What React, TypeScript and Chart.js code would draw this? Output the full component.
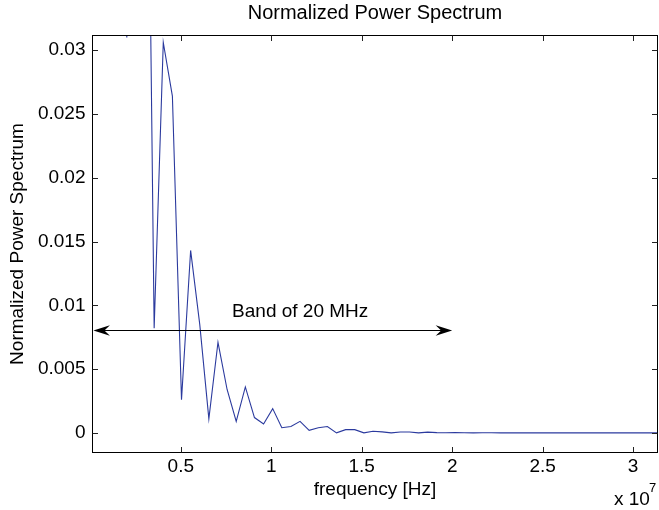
import React, { useEffect, useRef } from 'react';
import { Chart, registerables } from 'chart.js';

Chart.register(...registerables);

// ---- data ----
const freqMHz = [
  0.504, 1.008, 1.512, 2.016, 2.52, 3.024, 3.528, 4.032, 4.536, 5.04,
  5.544, 6.048, 6.552, 7.056, 7.56, 8.064, 8.568, 9.072, 9.576, 10.08,
  10.584, 11.088, 11.592, 12.096, 12.6, 13.104, 13.608, 14.112, 14.616, 15.12,
  15.624, 16.128, 16.632, 17.136, 17.64, 18.144, 18.648, 19.152, 19.656, 20.16,
  20.664, 21.168, 21.672, 22.176, 22.68, 23.184, 23.688, 24.192, 24.696, 25.2,
  25.704, 26.208, 26.712, 27.216, 27.72, 28.224, 28.728, 29.232, 29.736, 30.24,
  30.744, 31.248, 31.752,
];

const powerValues = [
  0.15, 0.35, 0.25, 0.031, 0.085, 0.07, 0.0082, 0.0306, 0.0264, 0.0026,
  0.0143, 0.0085, 0.0011, 0.0071, 0.0034, 0.0009, 0.0036, 0.0012, 0.0007, 0.0019,
  0.0004, 0.0005, 0.0009, 0.0002, 0.0004, 0.0005, 0.0, 0.00025, 0.00025, 0.0,
  0.00013, 0.00008, 0.0, 0.00007, 0.00007, 0.0, 0.00006, 0.00002, 0.00001, 0.00002,
  0.00001, 0.0, 0.00001, 0.00001, 0.0, 0.00001, 0.0, 0.0, 0.00001, 0.0,
  0.0, 0.00001, 0.0, 0.0, 0.0, 0.00001, 0.0, 0.0, 0.0, 0.0,
  0.0, 0.0, 0.0,
];

const xTickValues = [0.5e7, 1e7, 1.5e7, 2e7, 2.5e7, 3e7];
const xTickLabels = ['0.5', '1', '1.5', '2', '2.5', '3'];
const yTickValues = [0, 0.005, 0.01, 0.015, 0.02, 0.025, 0.03];
const yTickLabels = ['0', '0.005', '0.01', '0.015', '0.02', '0.025', '0.03'];

const xMin = 1.2e5;
const xMax = 3.135e7;
const yMin = -0.00154;
const yMax = 0.03115;

// annotation: band arrow
const bandStartHz = 0.17e6;
const bandEndHz = 20e6;
const bandLevel = 0.0081;
const bandLabel = 'Band of 20 MHz';
const bandLabelX = 1.16e7;
const bandLabelY = 0.0091;

const titleText = 'Normalized Power Spectrum';
const xTitle = 'frequency [Hz]';
const yTitle = 'Normalized Power Spectrum';
const expBase = 'x 10';
const expPower = '7';

const FONT = '"Liberation Sans", Arial, Helvetica, sans-serif';
const LINE_COLOR = '#2b3a9e';

const matlabPlugin = {
  id: 'matlabDecor',
  afterDatasetsDraw(chart: any) {
    const { ctx, chartArea: a, scales } = chart;
    const xs = scales.x;
    const ys = scales.y;
    ctx.save();
    // box
    ctx.strokeStyle = '#000';
    ctx.lineWidth = 1;
    ctx.strokeRect(a.left, a.top, a.right - a.left, a.bottom - a.top);
    // inward ticks
    const tl = 5.5;
    ctx.strokeStyle = '#222';
    ctx.beginPath();
    xTickValues.forEach((v) => {
      const px = Math.round(xs.getPixelForValue(v)) + 0.5;
      ctx.moveTo(px, a.bottom);
      ctx.lineTo(px, a.bottom - tl);
      ctx.moveTo(px, a.top);
      ctx.lineTo(px, a.top + tl);
    });
    yTickValues.forEach((v) => {
      const py = Math.round(ys.getPixelForValue(v)) + 0.5;
      ctx.moveTo(a.left, py);
      ctx.lineTo(a.left + tl, py);
      ctx.moveTo(a.right, py);
      ctx.lineTo(a.right - tl, py);
    });
    ctx.stroke();

    // band arrow
    const yA = Math.round(ys.getPixelForValue(bandLevel)) + 0.5;
    const xL = xs.getPixelForValue(bandStartHz);
    const xR = xs.getPixelForValue(bandEndHz);
    ctx.strokeStyle = '#000';
    ctx.fillStyle = '#000';
    ctx.lineWidth = 1;
    ctx.beginPath();
    ctx.moveTo(xL + 6, yA);
    ctx.lineTo(xR - 6, yA);
    ctx.stroke();
    const head = (tipX: number, dir: number) => {
      const L = 16.5;
      const W = 5.3;
      const N = 11;
      ctx.beginPath();
      ctx.moveTo(tipX, yA);
      ctx.lineTo(tipX - dir * L, yA - W);
      ctx.lineTo(tipX - dir * N, yA);
      ctx.lineTo(tipX - dir * L, yA + W);
      ctx.closePath();
      ctx.fill();
    };
    head(xL, -1);
    head(xR, 1);

    // band label
    ctx.font = `19px ${FONT}`;
    ctx.textAlign = 'center';
    ctx.textBaseline = 'alphabetic';
    ctx.fillText(bandLabel, xs.getPixelForValue(bandLabelX), ys.getPixelForValue(bandLabelY));

    // exponent label
    ctx.textAlign = 'left';
    ctx.font = `19px ${FONT}`;
    ctx.fillText(expBase, a.right - 43.5, a.bottom + 52);
    ctx.font = `13px ${FONT}`;
    ctx.fillText(expPower, a.right - 8.5, a.bottom + 39);
    ctx.restore();
  },
};

export default function App() {
  const canvasRef = useRef<HTMLCanvasElement | null>(null);

  useEffect(() => {
    const canvas = canvasRef.current;
    if (!canvas) return;
    const points = freqMHz.map((f, i) => ({ x: f * 1e6, y: powerValues[i] }));
    const chart = new Chart(canvas, {
      type: 'line',
      data: {
        datasets: [
          {
            data: points,
            borderColor: LINE_COLOR,
            borderWidth: 1.1,
            pointRadius: 0,
            tension: 0,
            fill: false,
            clip: 0,
          } as any,
        ],
      },
      options: {
        animation: false,
        responsive: false,
        devicePixelRatio: 1,
        events: [],
        layout: { padding: { left: 0, right: 1.5, top: 0, bottom: 0 } },
        plugins: {
          legend: { display: false },
          tooltip: { enabled: false },
          title: {
            display: true,
            text: titleText,
            fullSize: false,
            color: '#000',
            font: { family: FONT, size: 20, weight: 'normal' as any, lineHeight: 1.2 },
            padding: { top: 1, bottom: 10.5 },
          },
        },
        scales: {
          x: {
            type: 'linear',
            min: xMin,
            max: xMax,
            grid: { display: false, drawTicks: false, tickLength: 0 },
            border: { display: false },
            afterBuildTicks: (scale: any) => {
              scale.ticks = xTickValues.map((v) => ({ value: v }));
            },
            afterFit: (scale: any) => {
              scale.height = 57.5;
            },
            ticks: {
              autoSkip: false,
              maxRotation: 0,
              minRotation: 0,
              padding: 3,
              color: '#000',
              font: { family: FONT, size: 19, lineHeight: 1.2 },
              callback: (_v: any, i: number) => xTickLabels[i],
            },
            title: {
              display: true,
              text: xTitle,
              color: '#000',
              font: { family: FONT, size: 19, lineHeight: 1.2 },
              padding: { top: 0, bottom: 8.6 },
            },
          },
          y: {
            type: 'linear',
            min: yMin,
            max: yMax,
            grid: { display: false, drawTicks: false, tickLength: 0 },
            border: { display: false },
            afterBuildTicks: (scale: any) => {
              scale.ticks = yTickValues.map((v) => ({ value: v }));
            },
            afterFit: (scale: any) => {
              scale.width = 92.5;
            },
            ticks: {
              autoSkip: false,
              padding: 7,
              color: '#000',
              font: { family: FONT, size: 19, lineHeight: 1.2 },
              callback: (_v: any, i: number) => yTickLabels[i],
            },
            title: {
              display: true,
              text: yTitle,
              color: '#000',
              font: { family: FONT, size: 19, lineHeight: 1.2 },
              padding: { top: 6, bottom: 0 },
            },
          },
        },
      },
      plugins: [matlabPlugin],
    });
    return () => chart.destroy();
  }, []);

  return (
    <div style={{ position: 'fixed', left: 0, top: 0, width: 659, height: 510, background: '#fff' }}>
      <canvas ref={canvasRef} width={659} height={510} style={{ display: 'block', width: 659, height: 510 }} />
    </div>
  );
}
